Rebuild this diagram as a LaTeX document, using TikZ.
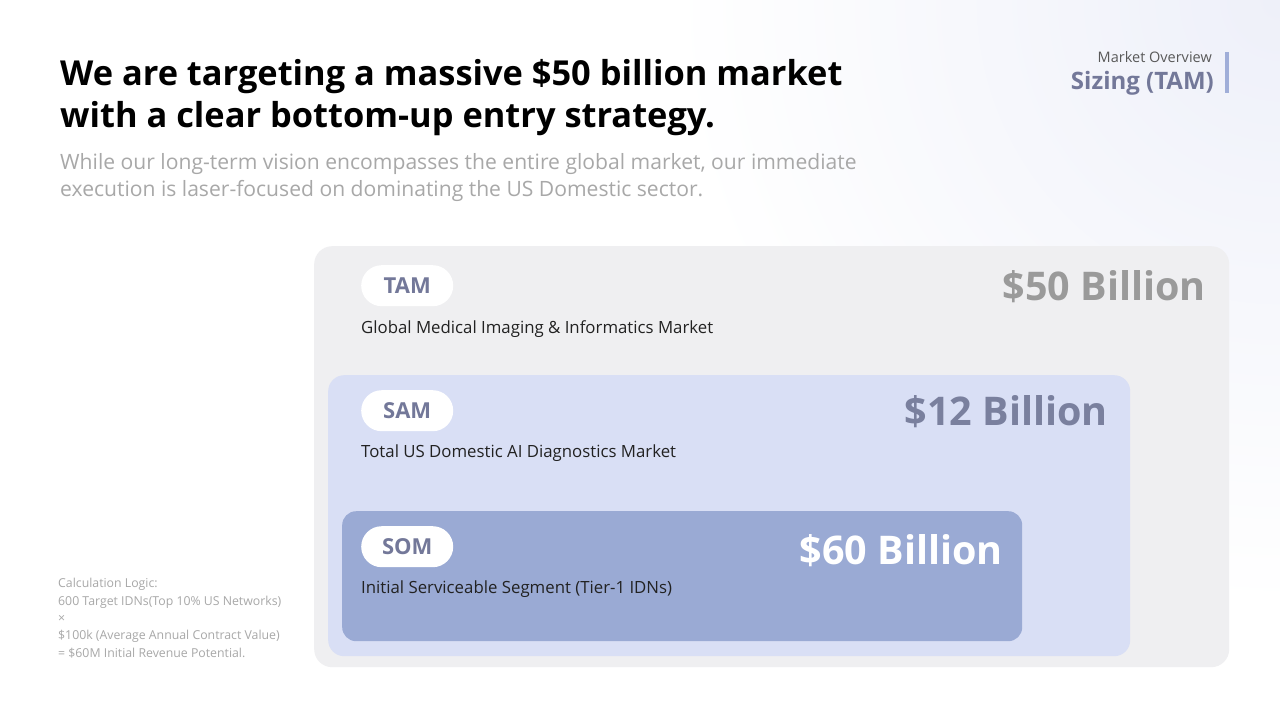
\documentclass[tikz,border=0pt]{standalone}
\usepackage{fontspec}
\setmainfont{Open Sans}
\usetikzlibrary{positioning}
\definecolor{tamfill}{HTML}{EFEFF1}
\definecolor{samfill}{HTML}{D9DFF5}
\definecolor{somfill}{HTML}{9AAAD4}
\definecolor{pilltxt}{HTML}{737899}
\definecolor{subgray}{HTML}{A8A8A8}
\definecolor{darktxt}{HTML}{222222}
\definecolor{bargc}{HTML}{A0AED8}
\definecolor{glow}{HTML}{EEF0F9}
\definecolor{val50}{HTML}{9A9A9A}
\definecolor{val12}{HTML}{7A809E}
\pgfdeclareradialshading{glowsh}{\pgfpoint{0bp}{0bp}}{color(0bp)=(glow); color(19bp)=(white); color(50bp)=(white)}
\tikzset{
  region/.style={rounded corners=#1, anchor=north west, inner sep=0pt},
  pill/.style={fill=white, rounded corners=20.5pt, minimum width=92pt, minimum height=41pt, inner sep=0pt, anchor=north west, font=\fontsize{22}{24}\selectfont\bfseries, text=pilltxt},
  desc/.style={anchor=west, inner sep=0pt, font=\fontsize{16.8}{18}\selectfont, text=darktxt},
  value/.style={anchor=east, inner sep=0pt, font=\fontsize{39.5}{42}\selectfont\bfseries},
  calc/.style={anchor=west, inner sep=0pt, font=\fontsize{12.3}{14}\selectfont, text=subgray},
}
\begin{document}
\begin{tikzpicture}[x=1pt,y=-1pt]
\useasboundingbox (0,0) rectangle (1280,720);
\fill[white] (0,0) rectangle (1280,720);
\begin{scope}
\clip (0,0) rectangle (1280,720);
\shade[shading=glowsh] (1280,0) circle (800);
\end{scope}
% header
\node[anchor=base west, inner sep=0pt, font=\fontsize{34.4}{42}\selectfont\bfseries, align=left] (title) at (60,127) {We are targeting a massive \$50 billion market\\with a clear bottom-up entry strategy.};
\node[anchor=base west, inner sep=0pt, font=\fontsize{21.1}{27}\selectfont, text=subgray, align=left] (sub) at (60,196) {While our long-term vision encompasses the entire global market, our immediate\\execution is laser-focused on dominating the US Domestic sector.};
\node[anchor=east, inner sep=0pt, font=\fontsize{14.5}{16}\selectfont, text=black!65] (mo) at (1212,57) {Market Overview};
\node[anchor=east, inner sep=0pt, font=\fontsize{24}{26}\selectfont\bfseries, text=pilltxt] (sz) at (1214,83) {Sizing (TAM)};
\fill[bargc] (1224.5,52) rectangle (1228.5,93);
% regions
\node[region=18pt, fill=tamfill, minimum width=915pt, minimum height=421pt] (tam) at (314,246) {};
\node[region=16pt, fill=samfill, minimum width=802pt, minimum height=281pt] (sam) at (328,375) {};
\node[region=14pt, fill=somfill, minimum width=680pt, minimum height=130pt] (som) at (342,511) {};
% TAM
\node[pill] (tampill) at (361,265) {TAM};
\node[desc] (tamdesc) at (361,329) {Global Medical Imaging \& Informatics Market};
\node[value, text=val50] (tamval) at (1206,287) {\$50 Billion};
% SAM
\node[pill] (sampill) at (361,390) {SAM};
\node[desc] (samdesc) at (361,453) {Total US Domestic AI Diagnostics Market};
\node[value, text=val12] (samval) at (1108,412) {\$12 Billion};
% SOM
\node[pill] (sompill) at (361,526) {SOM};
\node[desc] (somdesc) at (361,589) {Initial Serviceable Segment (Tier-1 IDNs)};
\node[value, text=white] (somval) at (1003,551) {\$60 Billion};
% calc
\node[calc] (c1) at (58,584) {Calculation Logic:};
\node[calc] (c2) at (58,602) {600 Target IDNs(Top 10\% US Networks)};
\node[calc] (c3) at (58,619) {×};
\node[calc] (c4) at (58,636) {\$100k (Average Annual Contract Value)};
\node[calc] (c5) at (58,653) {= \$60M Initial Revenue Potential.};
\end{tikzpicture}
\end{document}
